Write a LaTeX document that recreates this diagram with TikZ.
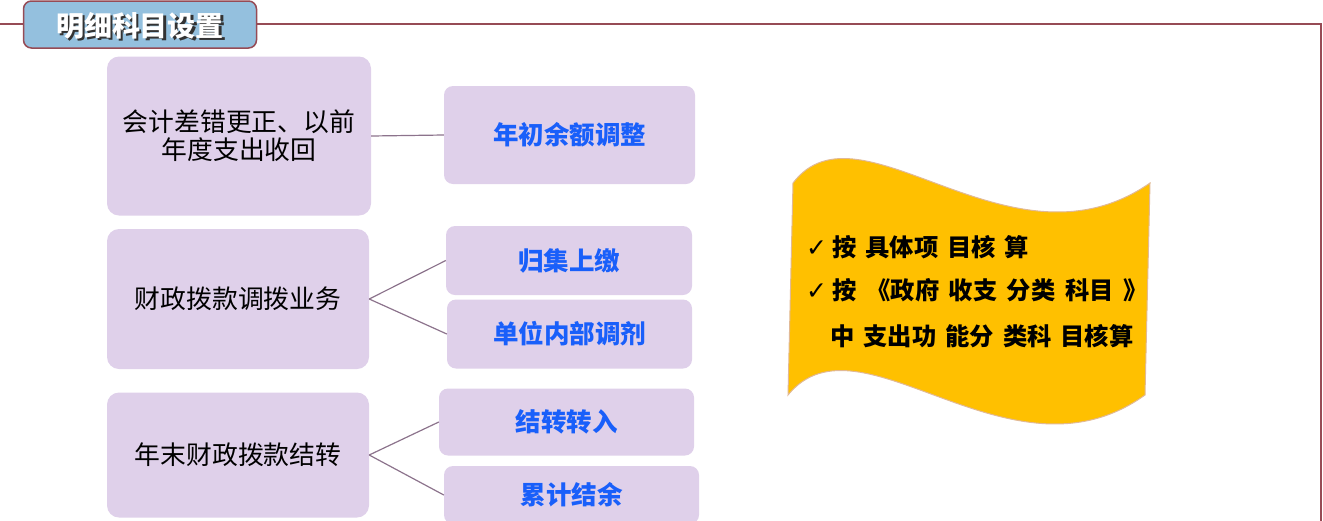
\documentclass[tikz,border=0pt]{standalone}
\usepackage{fontspec}
\usepackage{xcolor}
\newfontfamily\cjk{Noto Sans CJK SC}
\newfontfamily\checkfont{DejaVu Sans}
\definecolor{boxbg}{RGB}{223,208,234}
\definecolor{titlebg}{RGB}{148,192,222}
\definecolor{frameline}{RGB}{150,75,85}
\definecolor{linkgray}{RGB}{140,115,140}
\definecolor{itemblue}{RGB}{25,95,250}
\definecolor{flaggold}{RGB}{255,192,0}
\definecolor{flagedge}{RGB}{225,185,150}
\newcommand\rulefont{\cjk\bfseries\fontsize{24.3}{28}\selectfont}
\newcommand\tick{{\checkfont\fontsize{25}{28}\selectfont ✓}\hspace{-4pt}}

\tikzset{
  leftbox/.style={fill=boxbg, rounded corners=12pt, align=center,
    font=\cjk\fontsize{25.8}{28}\selectfont},
  itembox/.style={fill=boxbg, rounded corners=9pt, text=itemblue,
    font=\cjk\bfseries\fontsize{25.5}{28}\selectfont},
  link/.style={draw=linkgray, line width=1.2pt},
  ruletext/.style={anchor=base west, inner sep=0pt, font=\rulefont}
}

\begin{document}
\begin{tikzpicture}[x=1pt,y=-1pt]
    \useasboundingbox (0,0) rectangle (1323,520);
    \clip (0,0) rectangle (1323,520);
    % frame and title
    \draw [frameline, line width=1.5pt] (0,24) -- (1321,24) -- (1321,540);
    \node [fill=titlebg, draw=frameline, line width=1.5pt, rounded corners=8pt,
      minimum width=233pt, minimum height=47pt] (title) at (140,24.5) {};
    \node [text=black!80, font=\cjk\bfseries\fontsize{28}{30}\selectfont]
      (titleshadow) at (142,27.5) {明细科目设置};
    \node [text=white, font=\cjk\bfseries\fontsize{28}{30}\selectfont]
      (titletext) at (140,25.5) {明细科目设置};

    % left column
    \node [leftbox, minimum width=264pt, minimum height=159pt] (correct) at (239,136)
      {会计差错更正、以前\\年度支出收回};
    \node [leftbox, minimum width=262pt, minimum height=140pt] (alloc) at (238,299)
      {财政拨款调拨业务};
    \node [leftbox, minimum width=262pt, minimum height=125pt] (carry) at (238,455)
      {年末财政拨款结转};

    % right column
    \node [itembox, minimum width=251pt, minimum height=98pt] (opening) at (569.5,135) {年初余额调整};
    \node [itembox, minimum width=246pt, minimum height=69pt] (collect) at (569,260.5) {归集上缴};
    \node [itembox, minimum width=245pt, minimum height=69pt] (adjust) at (569.5,334) {单位内部调剂};
    \node [itembox, minimum width=255pt, minimum height=67pt] (transfer) at (566.5,422) {结转转入};
    \node [itembox, minimum width=255pt, minimum height=58pt] (balance) at (571.5,495) {累计结余};

    % connectors
    \draw [link] (correct.east) -- (opening.west);
    \draw [link] (alloc.east) -- (collect.west);
    \draw [link] (alloc.east) -- (adjust.west);
    \draw [link] (carry.east) -- (transfer.west);
    \draw [link] (carry.east) -- (balance.west);

    % flag
    \filldraw [fill=flaggold, draw=flagedge, line width=1pt]
      (793,183) .. controls (860,95) and (1010,280) .. (1150,183)
      -- (1145,395) .. controls (1010,492) and (860,307) .. (788,395) -- cycle;
    \node [ruletext] (rule1) at (806,256.5)
      {\spaceskip=9pt \tick{} 按 具体项 目核 算};
    \node [ruletext] (rule2) at (806,299.5)
      {\spaceskip=9.5pt \tick{} 按 《政府 收支 分类 科目 》};
    \node [ruletext] (rule3) at (830,345)
      {\spaceskip=9pt 中 支出功 能分 类科 目核算};
\end{tikzpicture}
\end{document}
